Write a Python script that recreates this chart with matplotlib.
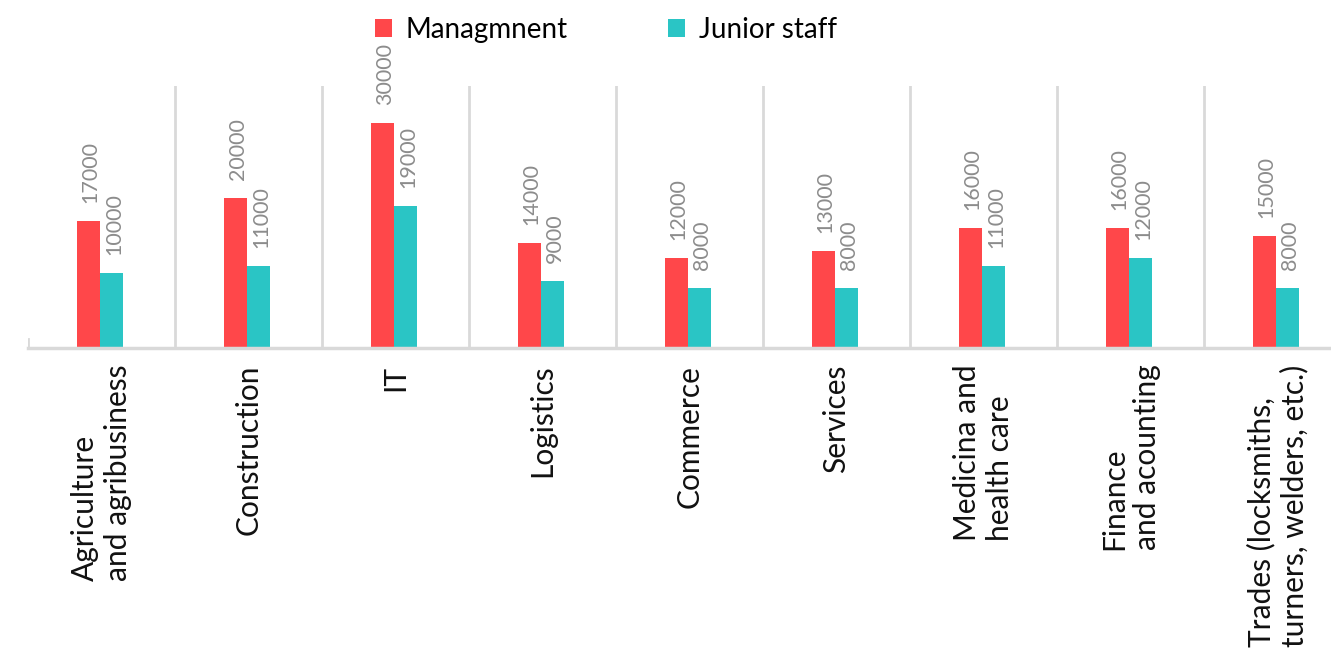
import matplotlib
matplotlib.use('Agg')
import matplotlib.pyplot as plt
import numpy as np

categories = ['Agriculture\nand agribusiness', 'Construction', 'IT', 'Logistics', 'Commerce',
              'Services', 'Medicina and\nhealth care', 'Finance\nand acounting',
              'Trades (locksmiths,\nturners, welders, etc.)']
management = [17000, 20000, 30000, 14000, 12000, 13000, 16000, 16000, 15000]
junior = [10000, 11000, 19000, 9000, 8000, 8000, 11000, 12000, 8000]

red = '#ff474a'
teal = '#2ac5c5'
grid_c = '#d9d9d9'
label_c = '#8c8c8c'

fig = plt.figure(figsize=(13.31, 6.52), dpi=100)
W, H = 1331, 652
ax = fig.add_axes([28 / W, 1 - 348 / H, 1303 / W, 262 / H])

x = np.arange(len(categories))
w = 0.158
b1 = ax.bar(x - w / 2 - 0.01, management, w, color=red, label='Managmnent')
b2 = ax.bar(x + w / 2 - 0.01, junior, w, color=teal, label='Junior staff')

for bars, vals in [(b1, management), (b2, junior)]:
    for r, v in zip(bars, vals):
        ax.annotate(str(v), (r.get_x() + r.get_width() / 2 + 0.015, v), xytext=(0, 13),
                    textcoords='offset points', rotation=90, ha='center', va='bottom',
                    color=label_c, fontsize=15.5, family='Lato')

# separators between categories
for s in np.arange(0.5, len(categories) - 1, 1):
    ax.axvline(s, color=grid_c, lw=2, zorder=0)
ax.axvline(-0.5, ymin=0, ymax=9 / 262, color=grid_c, lw=2)

ax.set_xlim(-0.5, -0.5 + 1303 / 147)
ax.set_ylim(0, 35000)
ax.set_yticks([])
ax.set_xticks(x)
ax.set_xticklabels(categories, rotation=90, ha='center', va='top', multialignment='left',
                   fontsize=21.5, family='Lato', color='#111111')
ax.tick_params(axis='x', length=0, pad=12)
for sp in ['top', 'right', 'left']:
    ax.spines[sp].set_visible(False)
ax.spines['bottom'].set_color(grid_c)
ax.spines['bottom'].set_linewidth(2.5)

fig.legend(handles=[b1, b2], loc='center', bbox_to_anchor=(606 / W, 1 - 30 / H), ncol=2,
           frameon=False, prop={'family': 'Lato', 'size': 20}, handlelength=0.6,
           handleheight=0.6, handletextpad=0.5, columnspacing=3.6)

fig.savefig('out.png', dpi=100)
